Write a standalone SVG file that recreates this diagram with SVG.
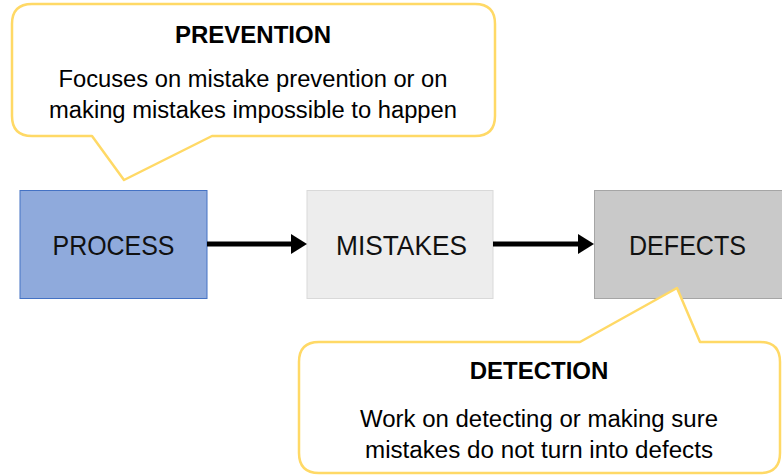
<svg xmlns="http://www.w3.org/2000/svg" width="782" height="476" viewBox="0 0 782 476">
<style>
.callout{fill:#fff;stroke:#FFD966;stroke-width:2.5;stroke-linejoin:round}
.title{font-family:"Liberation Sans",Arial,sans-serif;font-weight:bold;font-size:24px;fill:#000;text-anchor:middle}
.body{font-family:"Liberation Sans",Arial,sans-serif;font-size:23px;fill:#000;text-anchor:middle}
.lbl{font-family:"Liberation Sans",Arial,sans-serif;font-size:28px;fill:#111;text-anchor:middle}
.conn{stroke:#000;stroke-width:5;fill:none}
</style>
<defs>
<marker id="ah" markerWidth="4" markerHeight="4" refX="0" refY="2" orient="auto" markerUnits="strokeWidth">
<path d="M0,0 L3.2,2 L0,4 Z" fill="#000"/>
</marker>
</defs>
<rect width="782" height="476" fill="#fff"/>
<g id="process">
<rect x="20" y="190.5" width="187" height="108" fill="#8FAADC" stroke="#4472C4" stroke-width="1"/>
<text class="lbl" x="113.5" y="255" textLength="122" lengthAdjust="spacingAndGlyphs">PROCESS</text>
</g>
<g id="mistakes">
<rect x="307" y="190.5" width="186" height="108" fill="#EDEDED" stroke="#D9D9D9" stroke-width="1"/>
<text class="lbl" x="401.5" y="255" textLength="131" lengthAdjust="spacingAndGlyphs">MISTAKES</text>
</g>
<g id="defects">
<rect x="594.5" y="190.5" width="188" height="108" fill="#C9C9C9" stroke="#A5A5A5" stroke-width="1"/>
<text class="lbl" x="687.5" y="255" textLength="117" lengthAdjust="spacingAndGlyphs">DEFECTS</text>
</g>
<g id="connectors">
<line class="conn" x1="207" y1="244" x2="291" y2="244" marker-end="url(#ah)"/>
<line class="conn" x1="493" y1="244" x2="578" y2="244" marker-end="url(#ah)"/>
</g>
<g id="prevention">
<path class="callout" d="M32,4 H475 Q495,4 495,24 V116 Q495,136 475,136 H212 L124,180 L92,136 H32 Q12,136 12,116 V24 Q12,4 32,4 Z"/>
<text class="title" x="253" y="43">PREVENTION</text>
<text class="body" x="253" y="87" textLength="389" lengthAdjust="spacingAndGlyphs">Focuses on mistake prevention or on</text>
<text class="body" x="253" y="118" textLength="408" lengthAdjust="spacingAndGlyphs">making mistakes impossible to happen</text>
</g>
<g id="detection">
<path class="callout" d="M319,342 H580 L677,288 L700,342 H760 Q780,342 780,362 V453 Q780,473 760,473 H319 Q299,473 299,453 V362 Q299,342 319,342 Z"/>
<text class="title" x="539" y="379">DETECTION</text>
<text class="body" x="539" y="427" textLength="358" lengthAdjust="spacingAndGlyphs">Work on detecting or making sure</text>
<text class="body" x="539" y="458" textLength="348" lengthAdjust="spacingAndGlyphs">mistakes do not turn into defects</text>
</g>
</svg>
